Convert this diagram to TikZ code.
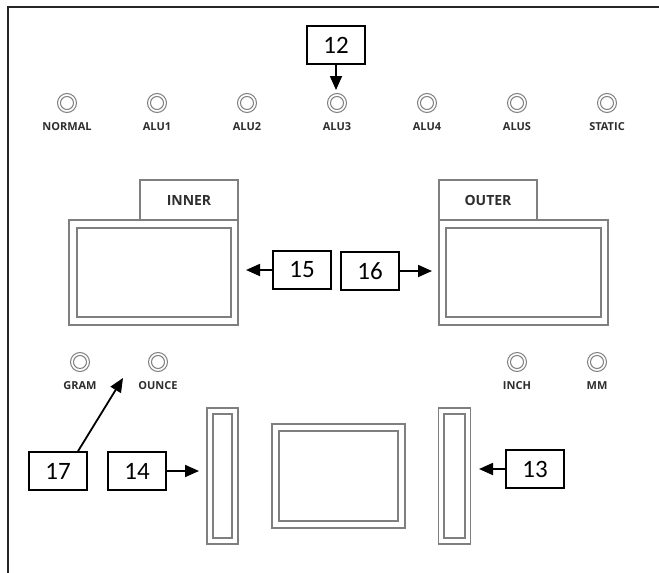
\documentclass[tikz,border=0pt]{standalone}
\usepackage{fontspec}
\setmainfont{Carlito}
\newfontfamily\labfont{Open Sans}
\usetikzlibrary{arrows.meta,calc}
\definecolor{panelgray}{HTML}{7F7F7F}
\definecolor{labgray}{HTML}{2E2E2E}
\begin{document}
\begin{tikzpicture}[x=1pt,y=-1pt,
  panel/.style={draw=panelgray,line width=1.2pt},
  btn/.style={circle,draw=panelgray,line width=1pt,minimum size=19pt,inner sep=0pt,
    path picture={\draw[panelgray,line width=1pt] (path picture bounding box.center) circle (6.5pt);}},
  lbl/.style={font=\labfont\bfseries\fontsize{11}{13}\selectfont,text=labgray,inner sep=0pt},
  tablbl/.style={font=\labfont\bfseries\fontsize{14}{16}\selectfont,text=labgray,inner sep=0pt},
  numbox/.style={draw=black,line width=1.6pt,minimum width=58pt,minimum height=38pt,inner sep=0pt,
    font=\fontsize{25}{28}\selectfont,fill=white},
  arr/.style={line width=1.8pt,-{Triangle[length=14pt,width=12pt]}},
  pbox/.style={panel,inner sep=0pt,fill=white}]
\useasboundingbox (0,0) rectangle (659,573);
\fill[white] (0,0) rectangle (659,573);
% frame (top and left only)
\draw[line width=2pt,black!85] (8,573) -- (8,7) -- (659,7);

% top row of buttons
\foreach \i/\t/\n in {0/NORMAL/bn,1/ALU1/ba1,2/ALU2/ba2,3/ALU3/ba3,4/ALU4/ba4,5/ALUS/bas,6/STATIC/bst}{
  \node[btn] (\n) at ({67+90*\i},103) {};
  \node[lbl] (\n l) at ({67+90*\i},127) {\t};
}

% unit buttons
\node[btn] (bg) at (80,362) {};
\node[lbl] (bgl) at (80,386) {GRAM};
\node[btn] (bo) at (158,362) {};
\node[lbl] (bol) at (158,386) {OUNCE};
\node[btn] (bi) at (517,362) {};
\node[lbl] (bil) at (517,386) {INCH};
\node[btn] (bm) at (597,362) {};
\node[lbl] (bml) at (597,386) {MM};

% INNER display
\draw[panel] (140,220) -- (140,180) -- (238,180) -- (238,220);
\node[tablbl] (innert) at (189,200) {INNER};
\node[pbox,minimum width=169pt,minimum height=105pt] (inner) at (153.5,272.5) {};
\draw[panel] (77,228) rectangle (231,317);

% OUTER display
\draw[panel] (439,220) -- (439,180) -- (537,180) -- (537,220);
\node[tablbl] (outert) at (488,200) {OUTER};
\node[pbox,minimum width=169pt,minimum height=105pt] (outer) at (523.5,272.5) {};
\draw[panel] (446,228) rectangle (601,317);

% bottom slots and middle display
\node[pbox,minimum width=31pt,minimum height=136pt] (slotl) at (222.5,476) {};
\draw[panel] (213,414) rectangle (232,538);
\node[pbox,minimum width=133pt,minimum height=104pt] (mid) at (338.5,476) {};
\draw[panel] (279,431) rectangle (398,521);
\node[pbox,minimum width=32pt,minimum height=136pt] (slotr) at (454.5,476) {};
\draw[panel] (444,414) rectangle (465,538);

% number boxes
\node[numbox] (b12) at (336,45) {12};
\node[numbox] (b15) at (302,270) {15};
\node[numbox] (b16) at (370,271) {16};
\node[numbox] (b17) at (58,471) {17};
\node[numbox] (b14) at (137,471) {14};
\node[numbox] (b13) at (535,469) {13};

% arrows
\coordinate (t12) at (336,90);
\coordinate (t15) at (246,270);
\coordinate (t16) at (432,271);
\coordinate (t17) at (123,378);
\coordinate (t14) at (199,471);
\coordinate (t13) at (479,469);
\draw[arr] (b12.south) -- (t12);
\draw[arr] (b15.west) -- (t15);
\draw[arr] (b16.east) -- (t16);
\draw[arr] ($(b17.north)+(20,0)$) -- (t17);
\draw[arr] (b14.east) -- (t14);
\draw[arr] (b13.west) -- (t13);
\end{tikzpicture}
\end{document}
